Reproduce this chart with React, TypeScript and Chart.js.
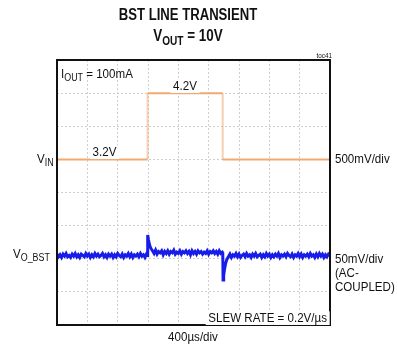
import React, { useEffect, useRef } from "react";
import { Chart, registerables } from "chart.js";

Chart.register(...registerables);

// Scope settings: 9 horizontal divisions x 8 vertical divisions
const TIME_PER_DIV = 400; // µs
const X_DIVS = 9;
const Y_DIVS = 8;

// VIN channel: 500mV/div, 3.2V sits on division 5
const VIN_PER_DIV = 0.5; // V
const VIN_REF = 3.2; // V
const VIN_REF_DIV = 5;

// VO_BST channel: 50mV/div, AC-coupled, 0mV near division 2.1
const VO_PER_DIV = 50; // mV
const VO_REF_DIV = 2.1;

// VIN step (time µs, volts)
const vinTime = [0, 1195, 1195, 2185, 2185, 3600];
const vinVolts = [3.2, 3.2, 4.2, 4.2, 3.2, 3.2];

// VO_BST trace, mV deviation. Steady stretches are sampled every 20 µs.
const SAMPLE_US = 20;

// 0 – 1180 µs, before the line step
const voBefore = [
  2, -2, 1, -3, 2, -1, 3, -2, 0, -3, 2, -1, 3, -2, 1, -3, 2, 0, -2, 3, -1, 2, -3, 1, -2, 3, -1, 2, -2, 0,
  3, -2, 1, -3, 2, -1, 2, -3, 1, -2, 3, 0, -2, 2, -3, 1, -1, 3, -2, 2, -3, 1, -1, 2, -2, 3, -1, 1, -3, 2,
];

// overshoot when VIN steps up (time µs, mV)
const riseTime = [1192, 1196, 1206, 1218, 1232, 1248];
const riseMv = [0, 31, 24, 17, 12, 9];

// 1260 – 2180 µs, VIN at 4.2V
const voHigh = [
  7, 3, 8, 2, 6, 4, 7, 1, 6, 3, 7, 2, 6, 4, 8, 2, 5, 3, 7, 2, 6, 4, 7, 3, 6, 1, 7, 3, 6, 2,
  7, 4, 6, 2, 5, 3, 7, 2, 6, 4, 7, 3, 6, 2, 7, 3, 5,
];
const HIGH_START = 1260;

// undershoot when VIN steps down (time µs, mV)
const fallTime = [2186, 2190, 2198, 2210, 2224, 2240];
const fallMv = [4, -37, -30, -20, -12, -6];

// 2260 – 3600 µs, back at 3.2V
const voAfter = [
  -2, 2, -3, 1, -1, 3, -2, 2, -3, 0, 2, -2, 3, -1, 1, -3, 2, -1, 3, -2, 0, 2, -3, 1, -2, 3, -1, 2, -3, 1,
  -2, 2, -1, 3, -3, 1, -1, 2, -2, 3, 0, -2, 2, -3, 1, -1, 3, -2, 2, -3, 1, -1, 2, -2, 3, -1, 1, -3, 2, -2,
  3, -1, 2, -3, 1, -2, 2, 0,
];
const AFTER_START = 2260;

type Part = { t: string; sub?: boolean };
type Label = {
  parts: Part[];
  x: number;
  y: number;
  size: number;
  bold?: boolean;
  align: "left" | "center" | "right";
  sx: number;
  box?: boolean;
};

const labels: Label[] = [
  { parts: [{ t: "BST LINE TRANSIENT" }], x: 188, y: 20, size: 16, bold: true, align: "center", sx: 0.82 },
  { parts: [{ t: "V" }, { t: "OUT", sub: true }, { t: " = 10V" }], x: 188, y: 41, size: 16, bold: true, align: "center", sx: 0.84 },
  { parts: [{ t: "toc41" }], x: 332, y: 58, size: 7, align: "right", sx: 0.9 },
  { parts: [{ t: "I" }, { t: "OUT", sub: true }, { t: " = 100mA" }], x: 61, y: 78, size: 13, align: "left", sx: 0.89 },
  { parts: [{ t: "4.2V" }], x: 185, y: 90, size: 13, align: "center", sx: 0.89, box: true },
  { parts: [{ t: "3.2V" }], x: 104.5, y: 156, size: 13, align: "center", sx: 0.89, box: true },
  { parts: [{ t: "V" }, { t: "IN", sub: true }], x: 37, y: 163, size: 13, align: "left", sx: 0.89 },
  { parts: [{ t: "500mV/div" }], x: 335, y: 163, size: 13, align: "left", sx: 0.89 },
  { parts: [{ t: "V" }, { t: "O_BST", sub: true }], x: 13, y: 258, size: 13, align: "left", sx: 0.89 },
  { parts: [{ t: "50mV/div" }], x: 335, y: 263, size: 13, align: "left", sx: 0.89 },
  { parts: [{ t: "(AC-" }], x: 335, y: 277, size: 13, align: "left", sx: 0.89 },
  { parts: [{ t: "COUPLED)" }], x: 335, y: 291, size: 13, align: "left", sx: 0.89 },
  { parts: [{ t: "SLEW RATE = 0.2V/µs" }], x: 327, y: 322, size: 13, align: "right", sx: 0.89, box: true },
  { parts: [{ t: "400µs/div" }], x: 193, y: 341, size: 13, align: "center", sx: 0.89 },
];

const FONT_FAMILY = '"Liberation Sans", Arial, sans-serif';

function drawRich(ctx: CanvasRenderingContext2D, l: Label) {
  const fontFor = (p: Part) =>
    `${l.bold ? "bold " : ""}${p.sub ? Math.round(l.size * 0.78) : l.size}px ${FONT_FAMILY}`;
  let w = 0;
  const widths: number[] = [];
  for (const p of l.parts) {
    ctx.font = fontFor(p);
    const pw = ctx.measureText(p.t).width;
    widths.push(pw);
    w += pw;
  }
  const start = l.align === "left" ? 0 : l.align === "center" ? -w / 2 : -w;
  ctx.save();
  ctx.translate(l.x, l.y);
  ctx.scale(l.sx, 1);
  if (l.box) {
    ctx.fillStyle = "#ffffff";
    ctx.fillRect(start - 3, -l.size * 0.82, w + 6, l.size * 1.05);
  }
  ctx.fillStyle = "#111111";
  ctx.textBaseline = "alphabetic";
  let cx = start;
  l.parts.forEach((p, i) => {
    ctx.font = fontFor(p);
    ctx.fillText(p.t, cx, p.sub ? l.size * 0.25 : 0);
    cx += widths[i];
  });
  ctx.restore();
}

const scopePlugin = {
  id: "scopeDecor",
  afterDatasetsDraw(chart: Chart) {
    const { ctx, chartArea } = chart;
    ctx.save();
    ctx.strokeStyle = "#111111";
    ctx.lineWidth = 2;
    ctx.strokeRect(
      chartArea.left,
      chartArea.top,
      chartArea.right - chartArea.left,
      chartArea.bottom - chartArea.top
    );
    ctx.restore();
    for (const l of labels) drawRich(ctx, l);
  },
};

const vinDiv = (v: number) => VIN_REF_DIV + (v - VIN_REF) / VIN_PER_DIV;
const voDiv = (mv: number) => VO_REF_DIV + mv / VO_PER_DIV;

function buildVo() {
  const pts: { x: number; y: number }[] = [];
  voBefore.forEach((mv, i) => pts.push({ x: i * SAMPLE_US, y: voDiv(mv) }));
  riseTime.forEach((t, i) => pts.push({ x: t, y: voDiv(riseMv[i]) }));
  voHigh.forEach((mv, i) => pts.push({ x: HIGH_START + i * SAMPLE_US, y: voDiv(mv) }));
  fallTime.forEach((t, i) => pts.push({ x: t, y: voDiv(fallMv[i]) }));
  voAfter.forEach((mv, i) => pts.push({ x: AFTER_START + i * SAMPLE_US, y: voDiv(mv) }));
  return pts;
}

const ORANGE = "rgb(238,170,115)";
const ORANGE_EDGE = "rgba(238,170,115,0.55)";

export default function App() {
  const ref = useRef<HTMLCanvasElement | null>(null);

  useEffect(() => {
    if (!ref.current) return;
    const chart = new Chart(ref.current, {
      type: "line",
      data: {
        datasets: [
          {
            label: "VIN",
            data: vinTime.map((t, i) => ({ x: t, y: vinDiv(vinVolts[i]) })),
            borderColor: ORANGE,
            borderWidth: 2,
            pointRadius: 0,
            tension: 0,
            segment: {
              borderColor: (c: any) => (c.p0.parsed.x === c.p1.parsed.x ? ORANGE_EDGE : ORANGE),
            },
          },
          {
            label: "VO_BST",
            data: buildVo(),
            borderColor: "rgb(24,28,232)",
            borderWidth: 3,
            pointRadius: 0,
            tension: 0,
          },
        ],
      },
      options: {
        responsive: false,
        animation: false,
        events: [],
        layout: { padding: { left: 57, top: 60, right: 68, bottom: 22 } },
        plugins: { legend: { display: false }, tooltip: { enabled: false } },
        scales: {
          x: {
            type: "linear",
            min: 0,
            max: TIME_PER_DIV * X_DIVS,
            ticks: { display: false, stepSize: TIME_PER_DIV },
            grid: { color: "#cfcfcf", lineWidth: 1, drawTicks: false },
            border: { display: false, dash: [2, 2] },
          },
          y: {
            type: "linear",
            min: 0,
            max: Y_DIVS,
            ticks: { display: false, stepSize: 1 },
            grid: { color: "#cfcfcf", lineWidth: 1, drawTicks: false },
            border: { display: false, dash: [2, 2] },
          },
        },
      },
      plugins: [scopePlugin],
    });
    return () => chart.destroy();
  }, []);

  return (
    <div style={{ position: "absolute", left: 0, top: 0, width: 398, height: 347, background: "#fff" }}>
      <canvas ref={ref} width={398} height={347} />
    </div>
  );
}
